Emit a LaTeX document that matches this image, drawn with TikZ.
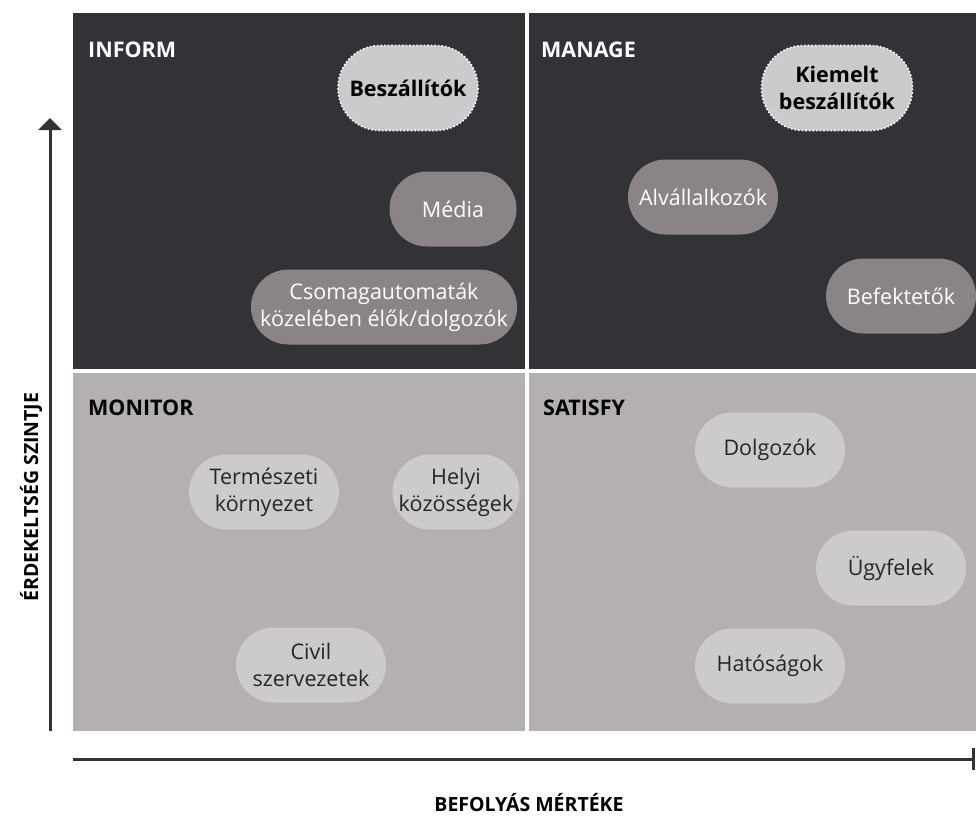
\documentclass[tikz,border=0pt]{standalone}
\usepackage{fontspec}
\setmainfont{Open Sans}
\usetikzlibrary{arrows.meta}
\definecolor{quaddark}{HTML}{323237}
\definecolor{quadlight}{HTML}{B3AFB2}
\definecolor{pillmid}{HTML}{8A8487}
\definecolor{pilllight}{HTML}{CCCACC}
\tikzset{pill/.style={rectangle, rounded corners=37.5pt, minimum height=75pt, minimum width=150pt,
         inner sep=0pt, align=center, font=\fontsize{21.5}{27}\selectfont},
         pilldark/.style={pill, fill=pillmid, text=white},
         pilllt/.style={pill, fill=pilllight, text=black!85},
         keypill/.style={pill, rounded corners=42pt, minimum height=85pt, fill=pilllight,
         text=black, draw=white, dotted, line width=1.6pt,
         font=\fontsize{21.5}{27}\selectfont\bfseries},
         quadtitle/.style={anchor=base west, inner sep=0pt,
         font=\fontsize{21.5}{24}\selectfont\bfseries},
         axislabel/.style={font=\fontsize{19.5}{22}\selectfont\bfseries, text=black}}

\begin{document}
\begin{tikzpicture}[x=1pt,y=-1pt]
    \useasboundingbox (0,0) rectangle (976,816);

    % quadrants
    \fill[quaddark]  (73,13)  rectangle (525,369);
    \fill[quaddark]  (529,13) rectangle (976,369);
    \fill[quadlight] (73,373) rectangle (525,731);
    \fill[quadlight] (529,373) rectangle (976,731);

    \node[quadtitle, text=white] (inform)  at (88,58)   {INFORM};
    \node[quadtitle, text=white] (manage)  at (541,58)  {MANAGE};
    \node[quadtitle, text=black] (monitor) at (88,415)  {MONITOR};
    \node[quadtitle, text=black] (satisfy) at (543,415) {SATISFY};

    % inform
    \node[keypill, minimum width=140pt] (beszall) at (408,88) {Beszállítók};
    \node[pilldark, minimum width=127pt] (media) at (453,209) {Média};
    \node[pilldark, minimum width=266pt] (csomag) at (384,307) {Csomagautomaták\\közelében élők/dolgozók};

    % manage
    \node[keypill, minimum width=151pt] (kiemelt) at (837,88) {Kiemelt\\beszállítók};
    \node[pilldark] (alvall) at (703,197) {Alvállalkozók};
    \node[pilldark] (befekt) at (901,296) {Befektetők};

    % monitor
    \node[pilllt] (termesz) at (264,492) {Természeti\\környezet};
    \node[pilllt, minimum width=127pt] (helyi) at (456,492) {Helyi\\közösségek};
    \node[pilllt] (civil) at (311,665) {Civil\\szervezetek};

    % satisfy
    \node[pilllt] (dolgozo) at (770,450) {Dolgozók};
    \node[pilllt] (ugyfel) at (891,568) {Ügyfelek};
    \node[pilllt] (hatosag) at (770,666) {Hatóságok};

    % axes
    \coordinate (ybot) at (50,731);
    \coordinate (ytop) at (50,118);
    \coordinate (xleft) at (73,759);
    \coordinate (xright) at (975,759);
    \draw[quaddark, line width=3pt, -{Triangle[width=23pt,length=12pt]}] (ybot) -- (ytop);
    \draw[quaddark, line width=3pt, -{Bar[width=22pt]}] (xleft) -- (xright);

    \node[axislabel, rotate=90] (ylabel) at (31,497) {ÉRDEKELTSÉG SZINTJE};
    \node[axislabel, anchor=base] (xlabel) at (529,811) {BEFOLYÁS MÉRTÉKE};
\end{tikzpicture}
\end{document}
